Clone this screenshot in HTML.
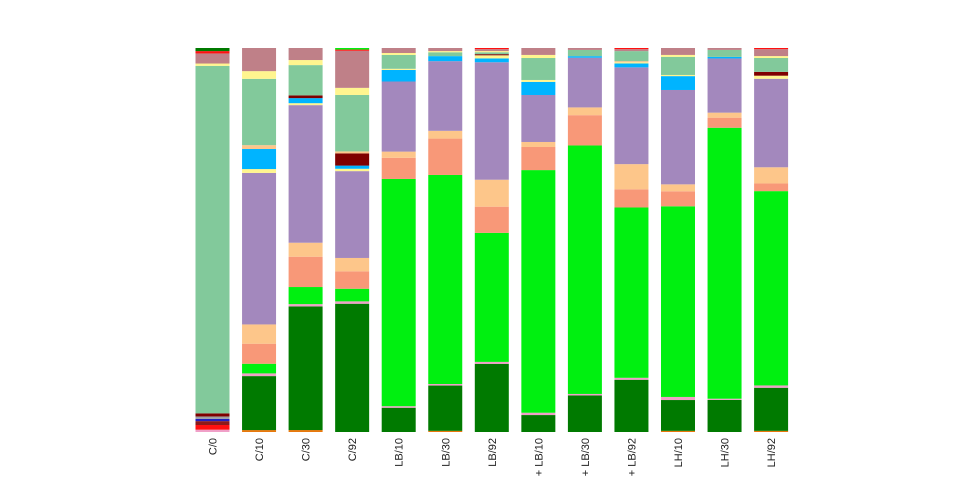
<!DOCTYPE html>
<html><head><meta charset="utf-8"><style>
html,body{margin:0;padding:0;background:#fff;width:960px;height:480px;overflow:hidden}
text{font-family:"Liberation Sans",sans-serif;font-size:11px;fill:#222}
</style></head><body>
<svg id="chart" width="960" height="480" xmlns="http://www.w3.org/2000/svg"></svg>
<script>
const categories = ["C/0","C/10","C/30","C/92","LB/10","LB/30","LB/92","+ LB/10","+ LB/30","+ LB/92","LH/10","LH/30","LH/92"];
const seriesNames = ["orange","low-pink","low-red","low-brown","low-blue","low-gray","dark-green","pink","lime","salmon","light-orange","purple","yellow","blue","yellow-2","dark-red","peach","sea-green","yellow-top","mauve","red-top","top-lime","top-green"];
const seriesColors = ["#e8780c","#f0a0c8","#ff1010","#8b1a1a","#2020c0","#a0a0a0","#007a00","#f0a0c8","#00f010","#f89878","#fdc68a","#a388bd","#fff58f","#00b4ff","#fff58f","#7f0000","#fdc68a","#82c99b","#fff58f","#bf8088","#ff1010","#00f010","#007a00"];
const vOrange   = [0,0.5,0.5,0,0,0.3,0,0,0,0,0.3,0,0.3];
const vLowPink  = [0.6,0,0,0,0,0,0,0,0,0,0,0,0];
const vLowRed   = [1.2,0,0,0,0,0,0,0,0,0,0,0,0];
const vLowBrown = [1,0,0,0,0,0,0,0,0,0,0,0,0];
const vLowBlue  = [0.6,0,0,0,0,0,0,0,0,0,0,0,0];
const vLowGray  = [0.6,0,0,0,0,0,0,0,0,0,0,0,0];
const vDkGreen  = [0,14,31.8,32.5,6.3,11.7,17.7,4.4,9.4,13.5,8,8.3,11.2];
const vPink     = [0,0.7,0.6,0.6,0.4,0.4,0.5,0.6,0.4,0.5,0.8,0.3,0.6];
const vLime     = [0,2.5,4.4,3.2,59,54,33.5,63,64,44,49.5,70,50.5];
const vSalmon   = [0,5.2,7.8,4.4,5.5,9.4,6.8,6,7.8,4.7,3.9,2.6,2];
const vLtOrange = [0,5,3.6,3.4,1.6,2,7,1.3,2,6.5,1.8,1.3,4.2];
const vPurple   = [0,39.3,35.4,22,18.2,18,30.5,12.2,12.8,25,24.5,14,23];
const vYellow   = [0,1,0.5,0.6,0,0,0,0,0,0,0,0,0];
const vBlue     = [0,5.2,1.3,0.8,3,1.3,1,3.4,0.4,1,3.6,0.4,0];
const vYellow2  = [0,0,0,0,0.3,0,0.8,0.5,0,0.3,0.3,0,0.8];
const vDarkRed  = [0.8,0,0.7,3.1,0,0,0.3,0,0,0,0,0,1];
const vPeach    = [0,1,0,0.5,0,0,0,0,0,0.3,0,0,0];
const vSeaGreen = [89.5,17.2,7.8,14.3,3.6,1,0.5,5.7,1.6,2.6,4.7,1.8,3.6];
const vYellowTop= [0.6,2,1.3,1.8,0.5,0.3,0.3,0.8,0,0,0.5,0,0.5];
const vMauve    = [2.6,6,3.1,9.4,1.3,0.8,0.5,1.8,0.5,0.5,1.8,0.5,1.8];
const vRedTop   = [0.6,0,0,0.3,0,0,0.3,0,0,0.3,0,0,0.3];
const vTopLime  = [0,0,0,0.4,0,0,0,0,0,0,0,0,0];
const vTopGreen = [0.8,0,0,0,0,0,0,0,0,0,0,0,0];
const seriesValues = [vOrange,vLowPink,vLowRed,vLowBrown,vLowBlue,vLowGray,vDkGreen,vPink,vLime,vSalmon,vLtOrange,vPurple,vYellow,vBlue,vYellow2,vDarkRed,vPeach,vSeaGreen,vYellowTop,vMauve,vRedTop,vTopLime,vTopGreen];

const NS="http://www.w3.org/2000/svg";
const svg=document.getElementById('chart');
const plotTop=48, plotBottom=432, firstCenter=212.5, step=46.55, barW=34;
function xCenter(i){return firstCenter+i*step;}
function yScale(frac){return plotBottom-frac*(plotBottom-plotTop);}
categories.forEach((cat,i)=>{
  let total=0; seriesValues.forEach(s=>total+=s[i]);
  let cum=0;
  const g=document.createElementNS(NS,'g');
  
  
  seriesValues.forEach((s,k)=>{
    const v=s[i]; if(!v) return;
    const y0=yScale(cum/total), y1=yScale((cum+v)/total); cum+=v;
    const r=document.createElementNS(NS,'rect');
    
    
    r.setAttribute('x',xCenter(i)-barW/2); r.setAttribute('width',barW);
    r.setAttribute('y',y1); r.setAttribute('height',Math.max(0,y0-y1));
    r.setAttribute('fill',seriesColors[k]);
    g.appendChild(r);
  });
  svg.appendChild(g);
  const t=document.createElementNS(NS,'text');
  
  
  const x=xCenter(i)+4, y=438;
  t.setAttribute('x',x); t.setAttribute('y',y);
  t.setAttribute('text-anchor','end');
  t.setAttribute('transform','rotate(-90 '+x+' '+y+')');
  t.textContent=cat;
  svg.appendChild(t);
});
</script>
</body></html>
